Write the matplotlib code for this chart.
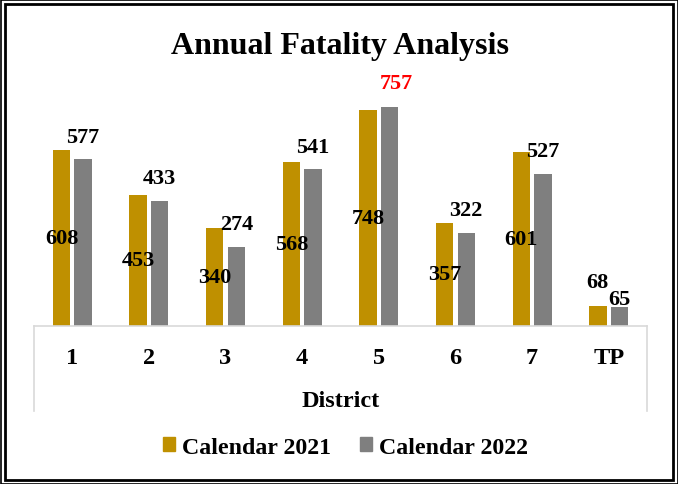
import numpy as np
import matplotlib
matplotlib.use('Agg')
import matplotlib.pyplot as plt
from matplotlib.patches import Rectangle, Patch

matplotlib.rc('font', family='Liberation Serif', weight='bold')

districts = ['1', '2', '3', '4', '5', '6', '7', 'TP']
cal_2021 = [608, 453, 340, 568, 748, 357, 601, 68]
cal_2022 = [577, 433, 274, 541, 757, 322, 527, 65]

gold = '#BF9000'
grey = '#7F7F7F'
fs = 16       # data labels
afs = 17.5    # axis text

fig = plt.figure(figsize=(6.78, 4.85), dpi=100)
ax = fig.add_axes([0.0501, 0.3264, 0.9042, 0.4763])

x = np.arange(len(districts))
off, w = 0.1414, 0.2256
ax.bar(x - off, cal_2021, w, color=gold, label='Calendar 2021')
ax.bar(x + off, cal_2022, w, color=grey, label='Calendar 2022')

# 2021 labels sit inside the bar, except the tiny TP bar
for xi, v in zip(x, cal_2021):
    if v < 150:
        ax.annotate(str(v), (xi - off, v), xytext=(0, 17), textcoords='offset points',
                    ha='center', va='center', fontsize=fs, fontweight='bold')
    else:
        ax.text(xi - off, v / 2, str(v), ha='center', va='center',
                fontsize=fs, fontweight='bold')

for xi, v in zip(x, cal_2022):
    top = v == max(cal_2022)
    dx, dy = (4.7, 17) if top else (0, 16)
    if v < 150:
        dy = 5.5
    ax.annotate(str(v), (xi + off, v), xytext=(dx, dy),
                textcoords='offset points', ha='center', va='center',
                fontsize=fs, fontweight='bold', color='red' if top else 'black')

ax.set_xlim(-0.5, len(districts) - 0.5)
ax.set_ylim(0, 800)
ax.set_yticks([])
for s in ['left', 'right', 'top']:
    ax.spines[s].set_visible(False)
ax.spines['bottom'].set_color('#D9D9D9')
ax.spines['bottom'].set_linewidth(1.2)

ax.set_xticks(x)
ax.set_xticklabels(districts, fontsize=afs, fontweight='bold')
ax.tick_params(axis='x', length=0, pad=15)

# side walls of the category band
for xa in (0, 1):
    ax.plot([xa, xa], [0, -0.368], transform=ax.transAxes, color='#D9D9D9',
            lw=1.2, clip_on=False)

ax.set_xlabel('District', fontsize=afs, fontweight='bold')
ax.xaxis.label.set_va('center')
ax.xaxis.set_label_coords(0.5, -0.322)

fig.text(0.501, 0.8887, 'Annual Fatality Analysis', ha='center', va='baseline',
         fontsize=23, fontweight='bold')

handles = [Patch(color=gold), Patch(color=grey)]
fig.legend(handles, ['Calendar 2021', 'Calendar 2022'], loc='center',
           bbox_to_anchor=(0.5096, 1 - 448 / 485), ncol=2, frameon=False,
           prop={'size': 17.2, 'weight': 'bold'}, handlelength=0.5,
           handleheight=0.5, handletextpad=0.3, columnspacing=1.2)

# double frame around the whole picture
fig.patches.append(Rectangle((0.5 / 678, 0.5 / 485), 677 / 678, 484 / 485,
                             transform=fig.transFigure, fill=False, ec='black', lw=1.2))
fig.patches.append(Rectangle((5 / 678, 4.5 / 485), 668 / 678, 476 / 485,
                             transform=fig.transFigure, fill=False, ec='black', lw=2))

fig.savefig('out.png', dpi=100)
